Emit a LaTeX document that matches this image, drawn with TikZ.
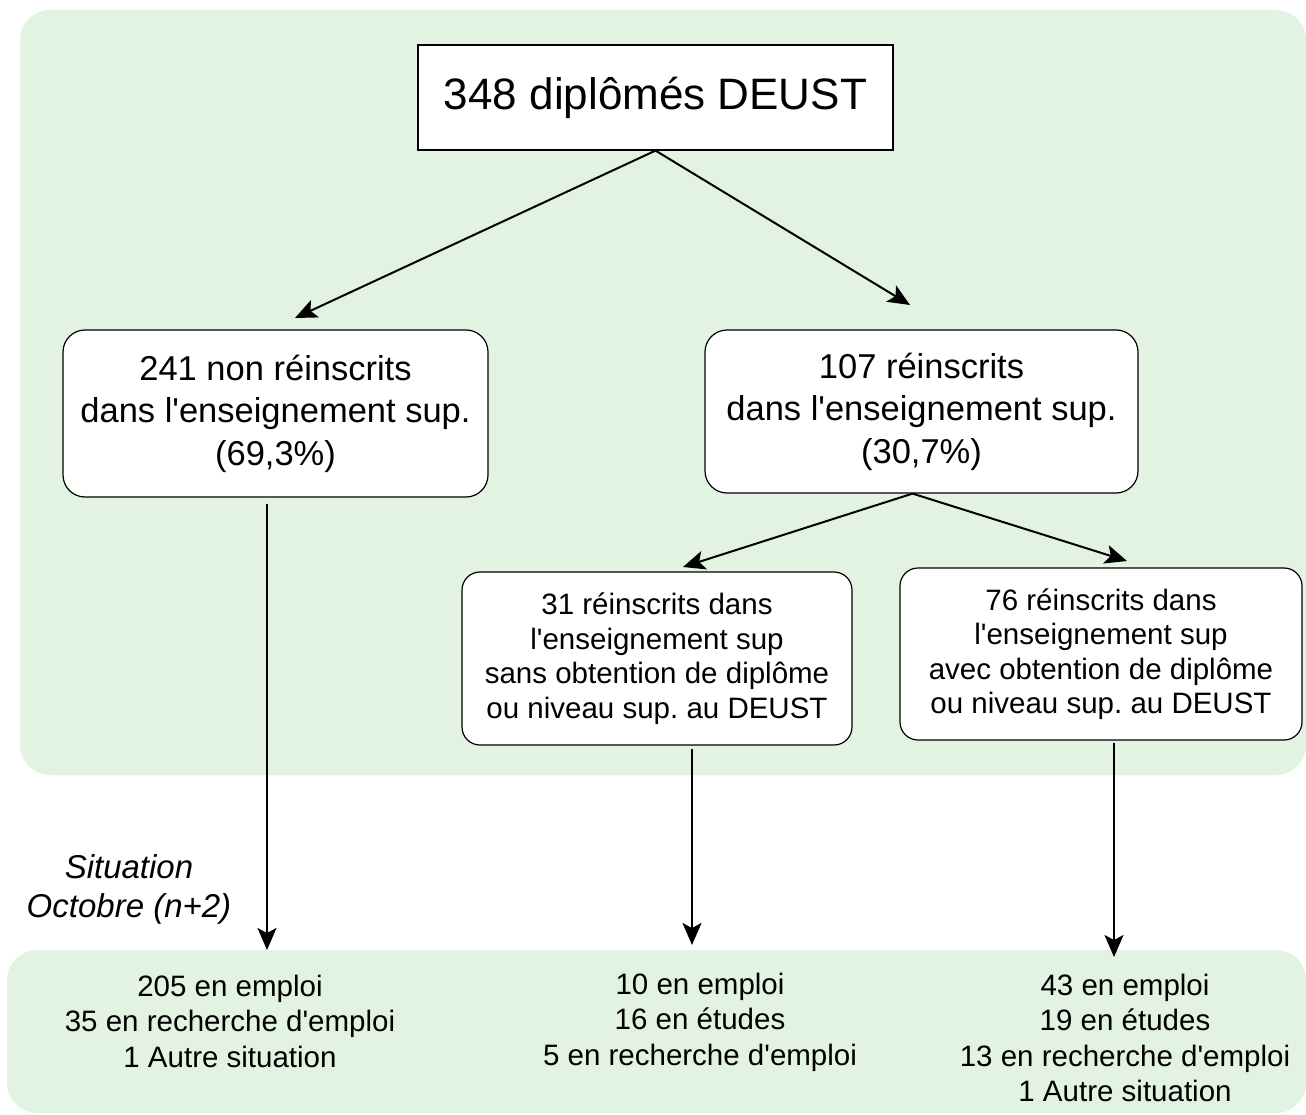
\documentclass[tikz,border=0pt]{standalone}
\usepackage{fontspec}
\setmainfont{Liberation Sans}
\usetikzlibrary{arrows.meta,positioning}
\definecolor{fondvert}{RGB}{227,243,225}
\frenchspacing
\tikzset{
  boite/.style={draw,fill=white,align=center,line width=1.2pt,rounded corners=22pt},
  petiteboite/.style={boite,rounded corners=18pt,font=\taille{29.5}{34.5}},
  bilan/.style={align=center,font=\taille{29.5}{35.5}},
  fleche/.style={-{Stealth[length=22pt,width=19pt,inset=5pt]},line width=2pt},
}
\newcommand{\taille}[2]{\fontsize{#1}{#2}\selectfont}
\newcommand{\apos}{\textquotesingle}

\begin{document}
\begin{tikzpicture}[x=1pt,y=-1pt]
\useasboundingbox (0,0) rectangle (1306,1115);
% fonds verts
\fill[fondvert,rounded corners=30pt] (20,10) rectangle (1306,775);
\fill[fondvert,rounded corners=30pt] (7,950) rectangle (1306,1113);

\node[draw,fill=white,line width=1.2pt,minimum width=475pt,minimum height=105pt,
  font=\taille{44}{53}] (total) at (655.5,97.5) {348 diplômés DEUST};
\node[boite,minimum width=425pt,minimum height=167pt,font=\taille{34.5}{42.5}]
  (nonreins) at (275.5,413.5) {241 non réinscrits\\dans l\apos enseignement sup.\\(69,3\%)};
\node[boite,minimum width=433pt,minimum height=163pt,font=\taille{34.5}{42.5}]
  (reins) at (921.5,411.5) {107 réinscrits\\dans l\apos enseignement sup.\\(30,7\%)};
\node[petiteboite,minimum width=390pt,minimum height=173pt] (sansdip) at (657,658.5)
  {31 réinscrits dans\\l\apos enseignement sup\\sans obtention de diplôme\\ou niveau sup. au DEUST};
\node[petiteboite,minimum width=402pt,minimum height=172pt] (avecdip) at (1101,654)
  {76 réinscrits dans\\l\apos enseignement sup\\avec obtention de diplôme\\ou niveau sup. au DEUST};

\node[align=center,font=\taille{33}{39}\itshape] (situation) at (129,889)
  {Situation\\Octobre (n+2)};
\node[bilan] (bilang) at (230,1021) {205 en emploi\\35 en recherche d\apos emploi\\1 Autre situation};
\node[bilan] (bilanm) at (700,1022) {10 en emploi\\16 en études\\5 en recherche d\apos emploi};
\node[bilan] (biland) at (1125,1038) {43 en emploi\\19 en études\\13 en recherche d\apos emploi\\1 Autre situation};

% pointes des fleches
\coordinate (pg) at (295,318);
\coordinate (pd) at (910,305);
\coordinate (psg) at (683,567);
\coordinate (psd) at (1127,561);
\coordinate (ag) at (267,950);
\coordinate (am) at (692,945);
\coordinate (ad) at (1114,957);

\draw[fleche] (total.south) -- (pg);
\draw[fleche] (total.south) -- (pd);
\draw[fleche] ([xshift=-9pt]reins.south) -- (psg);
\draw[fleche] ([xshift=-9pt]reins.south) -- (psd);
\draw[fleche,shorten <=6pt] (nonreins.south -| ag) -- (ag);
\draw[fleche,shorten <=3pt] (sansdip.south -| am) -- (am);
\draw[fleche,shorten <=2pt] (avecdip.south -| ad) -- (ad);
\end{tikzpicture}
\end{document}
